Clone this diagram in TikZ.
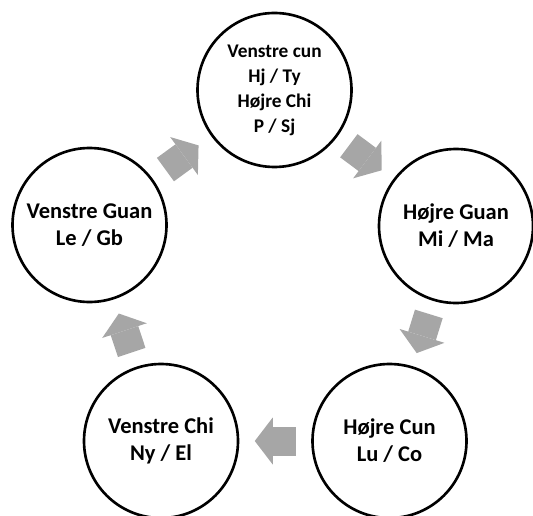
\documentclass[tikz,border=0pt]{standalone}
\usepackage{fontspec}
\setmainfont{Carlito}
\usetikzlibrary{arrows.meta,calc}
\definecolor{arrowgray}{RGB}{166,166,166}

\begin{document}
\begin{tikzpicture}[
  ring/.style={circle,draw=black,line width=1.5pt,minimum size=3.08cm,
               inner sep=0pt,align=center,
               font=\bfseries\fontsize{12.8}{15.4}\selectfont},
  ringsmall/.style={ring,font=\bfseries\fontsize{11}{14.2}\selectfont},
  flow/.style={-{Triangle[length=0.36cm,width=0.94cm,line width=0pt]},
               draw=arrowgray,line width=0.58cm}
]
\useasboundingbox (0,0) rectangle (10.66,10.30);
\clip (0,0) rectangle (10.66,10.30);

\coordinate (T) at (5.49,8.50);
\coordinate (R) at (9.12,5.78);
\coordinate (BR) at (7.79,1.48);
\coordinate (BL) at (3.22,1.48);
\coordinate (L) at (1.79,5.80);

\node[ringsmall] (vcun) at (T) {Venstre cun\\Hj / Ty\\Højre Chi\\P / Sj};
\node[ring] (hguan) at (R) {Højre Guan\\Mi / Ma};
\node[ring] (hcun) at (BR) {Højre Cun\\Lu / Co};
\node[ring] (vchi) at (BL) {Venstre Chi\\Ny / El};
\node[ring] (vguan) at (L) {Venstre Guan\\Le / Gb};

\draw[flow] ($(vcun)!0.5!(hguan)!0.41cm!(vcun)$)
  -- ($(vcun)!0.5!(hguan)!0.41cm!(hguan)$);
\draw[flow] ($(hguan)!0.5!(hcun)!0.41cm!(hguan)$)
  -- ($(hguan)!0.5!(hcun)!0.41cm!(hcun)$);
\draw[flow] ($(hcun)!0.5!(vchi)!0.41cm!(hcun)$)
  -- ($(hcun)!0.5!(vchi)!0.41cm!(vchi)$);
\draw[flow] ($(vchi)!0.5!(vguan)!0.41cm!(vchi)$)
  -- ($(vchi)!0.5!(vguan)!0.41cm!(vguan)$);
\draw[flow] ($(vguan)!0.5!(vcun)!0.41cm!(vguan)$)
  -- ($(vguan)!0.5!(vcun)!0.41cm!(vcun)$);
\end{tikzpicture}
\end{document}
